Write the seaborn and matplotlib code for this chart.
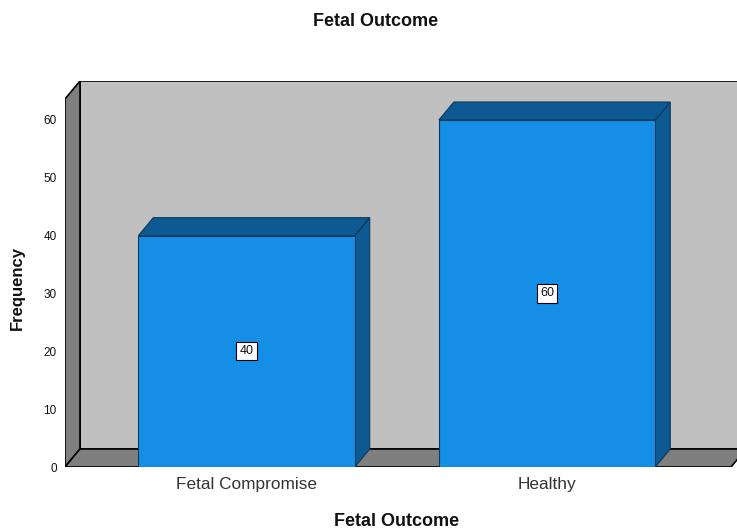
import matplotlib
matplotlib.use("Agg")
import matplotlib.pyplot as plt
import seaborn as sns
import pandas as pd
from matplotlib.patches import Polygon

categories = ["Fetal Compromise", "Healthy"]
frequencies = [40, 60]
y_ticks = [0, 10, 20, 30, 40, 50, 60]

sns.set_theme(style="white")
plt.rcParams["font.family"] = ["Liberation Sans", "DejaVu Sans"]

W, H = 737, 531
fig = plt.figure(figsize=(W / 100, H / 100), dpi=100)

# front plane of the 3D box, in figure pixels
left_px, right_px, bottom_px, top_px = 65, 737, 467, 81
ax = fig.add_axes([left_px / W, (H - bottom_px) / H,
                   (right_px - left_px) / W, (bottom_px - top_px) / H])

WALL = "#c0c0c0"
SIDE = "#7f7f7f"
FRONT = "#158ee6"
DARK = "#0d5a92"
DX, DY = 15, 18  # depth offset in pixels

df = pd.DataFrame({"outcome": categories, "count": frequencies})
sns.barplot(data=df, x="outcome", y="count", ax=ax, color=FRONT,
            saturation=1, width=0.72, edgecolor="#0b3a5e", linewidth=0.8,
            zorder=5)

ax.set_xlim(-0.604, 1.632)
ax.set_ylim(0, (bottom_px - top_px) / ((bottom_px - 120) / 60))
fig.canvas.draw()

to_disp = ax.transData
to_data = ax.transData.inverted()


def shift(x, y, dx, dy):
    px, py = to_disp.transform((x, y))
    return tuple(to_data.transform((px + dx, py + dy)))


def back(x, y):
    return shift(x, y, DX, DY)


x0, x1 = ax.get_xlim()
y0, y1 = ax.get_ylim()
ytop_front = shift(x0, y1, 0, -DY)[1]
xright_front = shift(x1, 0, -6, 0)[0]

# back wall
bx, by = back(x0, 0)
ax.add_patch(Polygon([(bx, by), (bx, y1), (x1 + 1, y1), (x1 + 1, by)],
                     closed=True, facecolor=WALL, edgecolor="black",
                     linewidth=1.2, zorder=1))
# left wall
ax.add_patch(Polygon([(x0, 0), (x0, ytop_front), back(x0, ytop_front),
                      back(x0, 0)], closed=True, facecolor=SIDE,
                     edgecolor="black", linewidth=1.2, zorder=2))
# floor
ax.add_patch(Polygon([(x0, 0), back(x0, 0), back(xright_front, 0),
                      (xright_front, 0)], closed=True, facecolor=SIDE,
                     edgecolor="black", linewidth=1.2, zorder=2))

# bar depth faces and value labels
for bar, val in zip(ax.patches[:len(frequencies)], frequencies):
    bx0 = bar.get_x()
    bx1 = bx0 + bar.get_width()
    h = bar.get_height()
    ax.add_patch(Polygon([(bx1, 0), (bx1, h), back(bx1, h), back(bx1, 0)],
                         closed=True, facecolor=DARK, edgecolor="#0b3a5e",
                         linewidth=0.8, zorder=4))
    ax.add_patch(Polygon([(bx0, h), (bx1, h), back(bx1, h), back(bx0, h)],
                         closed=True, facecolor=DARK, edgecolor="#0b3a5e",
                         linewidth=0.8, zorder=4))
    ax.text(bx0 + bar.get_width() / 2, h / 2, f"{val}", ha="center",
            va="center", fontsize=9, color="#111111", zorder=6,
            bbox=dict(boxstyle="square,pad=0.25", facecolor="white",
                      edgecolor="black", linewidth=0.8))

for s in ax.spines.values():
    s.set_visible(False)
ax.set_yticks(y_ticks)
ax.set_yticklabels([str(t) for t in y_ticks], fontsize=8.5)
ax.tick_params(axis="y", length=0, pad=6, colors="#111111")
ax.tick_params(axis="x", length=0, pad=7, labelsize=12.4, colors="#333333")
ax.set_xlabel("")
ax.set_ylabel("")
ax.grid(False)

fig.text(376 / W, 1 - 21 / H, "Fetal Outcome", ha="center", va="center",
         fontsize=13, fontweight="bold", color="#111111")
fig.text(397 / W, 1 - 522 / H, "Fetal Outcome", ha="center", va="center",
         fontsize=13, fontweight="bold", color="#111111")
fig.text(17 / W, 1 - 288 / H, "Frequency", ha="center", va="center",
         fontsize=12, fontweight="bold", rotation=90, color="#111111")

fig.savefig("out.png", dpi=100)
